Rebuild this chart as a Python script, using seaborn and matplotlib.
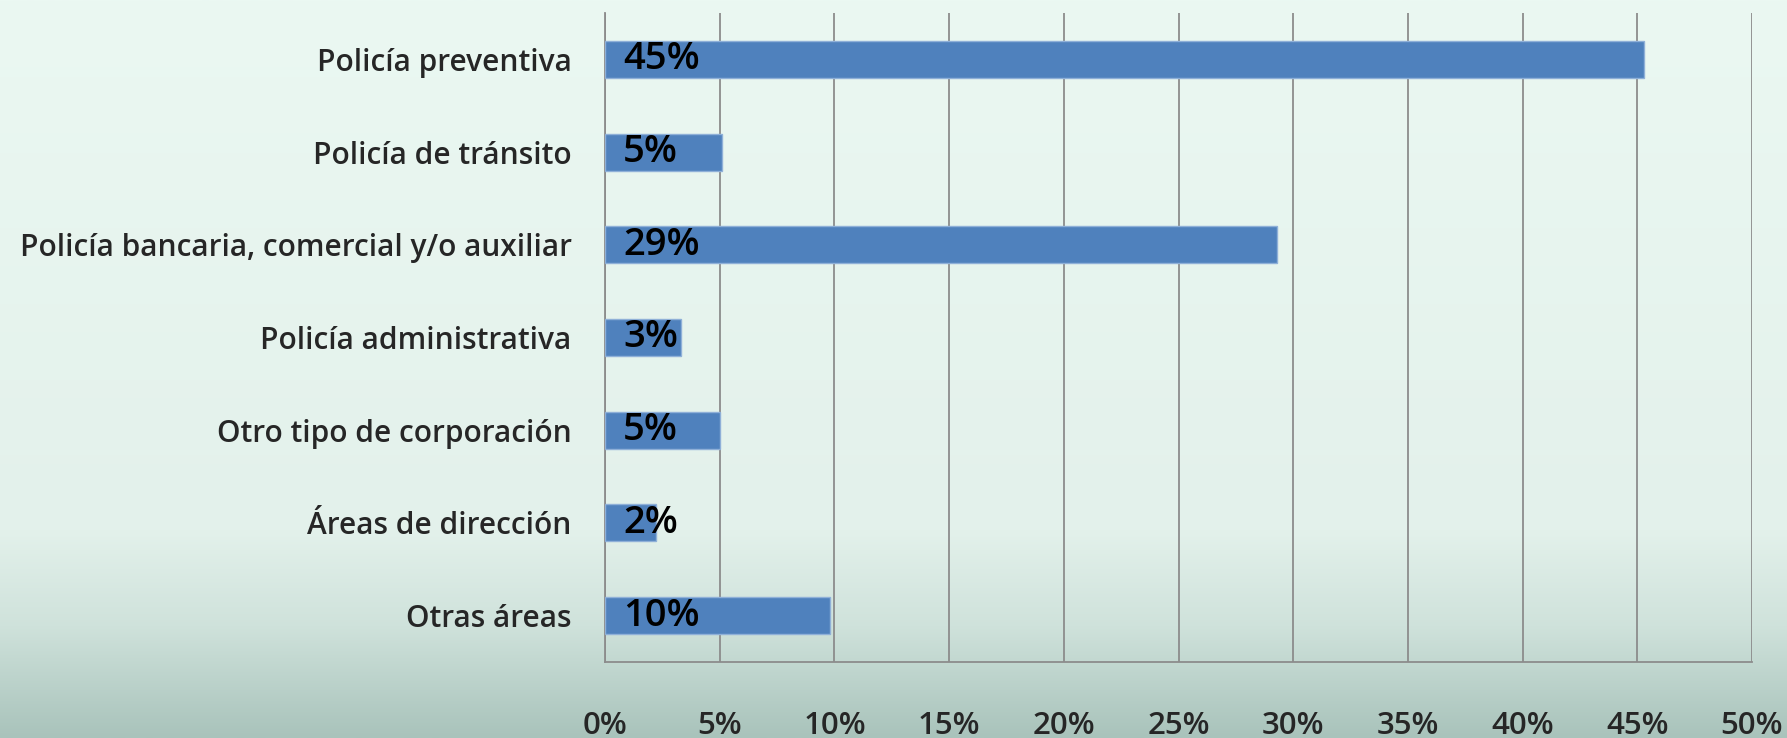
import numpy as np
import pandas as pd
import matplotlib
matplotlib.use('Agg')
import matplotlib.pyplot as plt
import matplotlib.colors as mcolors
import seaborn as sns

# datos
categorias = ['Policía preventiva', 'Policía de tránsito',
              'Policía bancaria, comercial y/o auxiliar', 'Policía administrativa',
              'Otro tipo de corporación', 'Áreas de dirección', 'Otras áreas']
valores = [45.3, 5.1, 29.3, 3.3, 5.0, 2.2, 9.8]
etiquetas = ['45%', '5%', '29%', '3%', '5%', '2%', '10%']
ticks_x = [0, 5, 10, 15, 20, 25, 30, 35, 40, 45, 50]

df = pd.DataFrame({'categoria': categorias, 'valor': valores})

sns.set_style('white')
plt.rcParams['font.family'] = ['Open Sans', 'DejaVu Sans']

fig = plt.figure(figsize=(17.87, 7.38), dpi=100)

# fondo degradado
bg = fig.add_axes([0, 0, 1, 1], zorder=-10)
cmap_bg = mcolors.LinearSegmentedColormap.from_list(
    'bg', [(0, '#ebf8f2'), (0.72, '#e3f1eb'), (0.85, '#cfe2db'), (1, '#a9c3bb')])
grad = np.linspace(0, 1, 256).reshape(-1, 1)
bg.imshow(grad, aspect='auto', cmap=cmap_bg, extent=[0, 1, 0, 1], origin='upper')
bg.set_axis_off()

ax = fig.add_axes([0.3386, 0.103, 0.6418, 0.8794])
ax.patch.set_alpha(0)
sns.barplot(data=df, x='valor', y='categoria', color='#4f81bd', saturation=1, width=0.4,
            edgecolor='#8fb0d8', linewidth=1, ax=ax, zorder=3)

for i, t in enumerate(etiquetas):
    ax.annotate(t, xy=(0, i), xytext=(18, 0), textcoords='offset pixels',
                ha='left', va='center', fontsize=27.5, fontweight='semibold',
                color='black', zorder=5)

ax.set_xlim(0, 50)
ax.set_ylim(6.5, -0.5)
ax.set_xticks(ticks_x)
ax.set_xticklabels([f'{v}%' for v in ticks_x], fontsize=22.5, fontweight='semibold')
ax.xaxis.grid(True, color='#8c8c8c', linewidth=1.3, zorder=0)
ax.yaxis.grid(False)

ax.set_yticks(range(len(categorias)))
ax.set_yticklabels(categorias, fontsize=21.5, fontweight='semibold')
ax.set_yticks(np.arange(-0.5, 7, 1), minor=True)
ax.tick_params(axis='y', which='major', length=0, pad=24)
ax.tick_params(axis='y', which='minor', length=9, color='#8c8c8c', width=1.3, direction='out')
ax.tick_params(axis='x', length=9, color='#8c8c8c', width=1.3, direction='out', pad=26)
ax.set_xlabel('')
ax.set_ylabel('')

for s in ['top', 'right']:
    ax.spines[s].set_visible(False)
for s in ['left', 'bottom']:
    ax.spines[s].set_color('#8c8c8c')
    ax.spines[s].set_linewidth(1.3)

fig.savefig('out.png', dpi=100)
